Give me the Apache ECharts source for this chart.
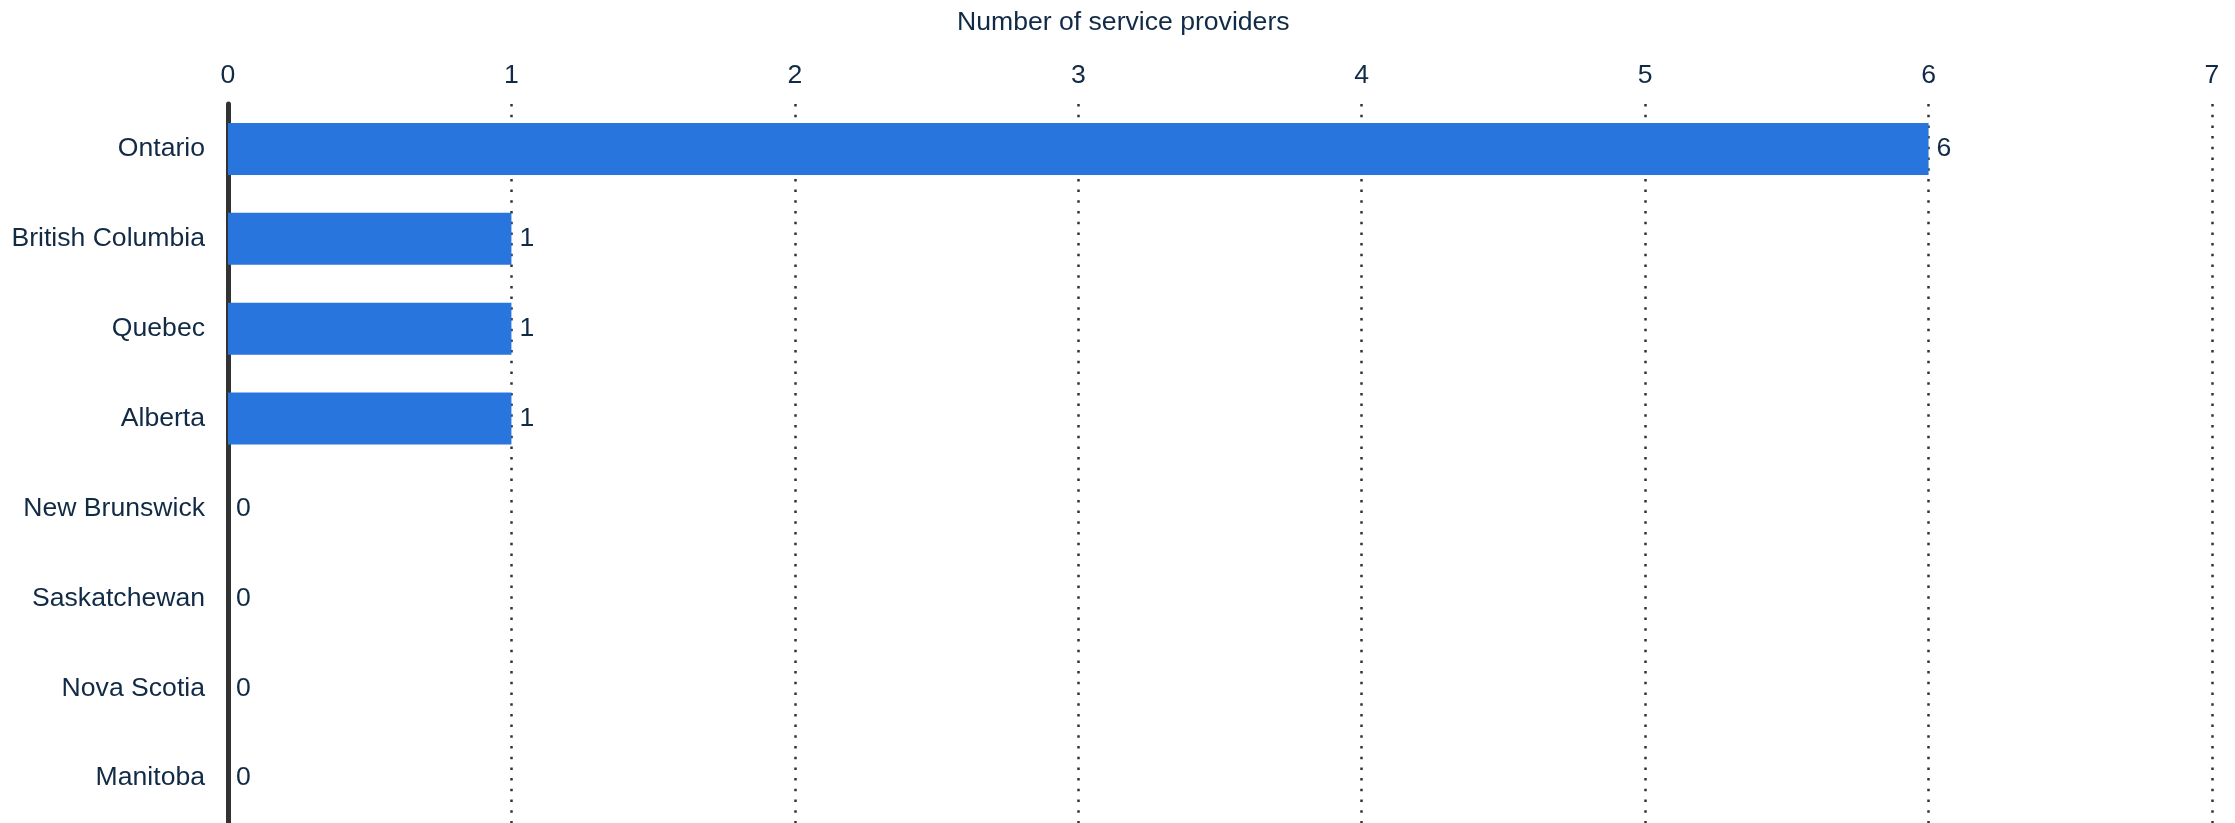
<!DOCTYPE html>
<html>
<head>
<meta charset="utf-8">
<script src="https://cdn.jsdelivr.net/npm/echarts@6/dist/echarts.min.js"></script>
<style>
html,body{margin:0;padding:0;background:#fff;}
#chart{width:2235px;height:823px;}
</style>
</head>
<body>
<div id="chart"></div>
<script>
const categories = ["Ontario", "British Columbia", "Quebec", "Alberta", "New Brunswick", "Saskatchewan", "Nova Scotia", "Manitoba"];
const providers = [6, 1, 1, 1, 0, 0, 0, 0];
const xTicks = [0, 1, 2, 3, 4, 5, 6, 7];
const axisTitle = "Number of service providers";

const textColor = "#112a45";
const font = "'Liberation Sans', Arial, sans-serif";
const fs = 26.6;

const chart = echarts.init(document.getElementById('chart'), null, {renderer: 'canvas'});
chart.setOption({
  animation: false,
  backgroundColor: '#ffffff',
  title: {
    text: axisTitle,
    left: 957,
    top: 9,
    padding: 0,
    textStyle: {fontFamily: font, fontSize: fs, fontWeight: 'normal', color: textColor}
  },
  grid: {left: 228, right: 23, top: 104, bottom: -2, containLabel: false},
  xAxis: {
    type: 'value',
    position: 'top',
    min: xTicks[0],
    max: xTicks[xTicks.length - 1],
    interval: 1,
    axisLine: {show: false},
    axisTick: {show: false},
    axisLabel: {fontFamily: font, fontSize: fs, color: textColor, margin: 15},
    splitLine: {
      show: true,
      lineStyle: {color: '#333333', width: 2.5, type: [2.5, 8.2]}
    }
  },
  yAxis: {
    type: 'category',
    inverse: true,
    data: categories,
    axisLine: {show: true, lineStyle: {color: '#333333', width: 5}},
    axisTick: {show: false},
    axisLabel: {fontFamily: font, fontSize: fs, color: textColor, margin: 23, padding: [3, 0, 0, 0]}
  },
  series: [{
    type: 'bar',
    data: providers,
    barWidth: 52,
    itemStyle: {color: '#2876dd'},
    label: {
      show: true,
      position: 'right',
      distance: 8,
      fontFamily: font,
      fontSize: fs,
      color: textColor,
      padding: [3, 0, 0, 0]
    }
  }]
});
</script>
</body>
</html>
